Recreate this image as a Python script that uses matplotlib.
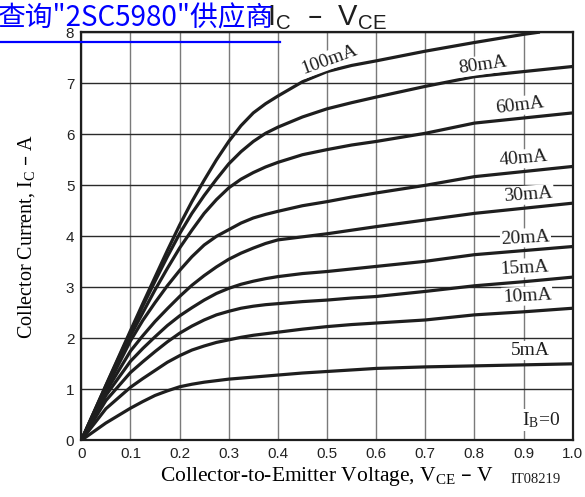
import matplotlib
matplotlib.use("Agg")
import matplotlib.pyplot as plt
from matplotlib.lines import Line2D

# V_CE sample points (V) and collector current (A)
vce = [0, 0.05, 0.1, 0.125, 0.15, 0.175, 0.2, 0.225, 0.25, 0.275, 0.3, 0.325,
       0.35, 0.375, 0.4, 0.45, 0.5, 0.55, 0.6, 0.7, 0.8, 0.9, 1.0]
vce_100ma = vce[:22] + [0.93]
ic_100ma = [0, 1.08, 2.15, 2.68, 3.2, 3.72, 4.22, 4.68, 5.1, 5.5, 5.86, 6.17,
            6.42, 6.6, 6.75, 7.03, 7.23, 7.35, 7.44, 7.63, 7.8, 7.96, 8.0]
ic_80ma = [0, 1.07, 2.12, 2.63, 3.12, 3.6, 4.05, 4.45, 4.8, 5.12, 5.42, 5.66,
           5.86, 6.02, 6.14, 6.34, 6.5, 6.62, 6.73, 6.94, 7.13, 7.23, 7.33]
ic_60ma = [0, 1.05, 2.05, 2.5, 2.95, 3.37, 3.77, 4.12, 4.45, 4.72, 4.95, 5.12,
           5.25, 5.36, 5.45, 5.6, 5.7, 5.79, 5.86, 6.02, 6.22, 6.32, 6.42]
ic_40ma = [0, 1.0, 1.95, 2.35, 2.7, 3.03, 3.33, 3.6, 3.83, 4.0, 4.13, 4.26,
           4.36, 4.43, 4.49, 4.6, 4.68, 4.77, 4.85, 5.0, 5.17, 5.27, 5.37]
ic_30ma = [0, 0.95, 1.75, 2.05, 2.33, 2.58, 2.82, 3.04, 3.23, 3.4, 3.55, 3.67,
           3.77, 3.86, 3.93, 3.99, 4.05, 4.12, 4.19, 4.32, 4.45, 4.55, 4.65]
ic_20ma = [0, 0.88, 1.55, 1.8, 2.03, 2.25, 2.44, 2.6, 2.75, 2.88, 2.98, 3.06,
           3.12, 3.17, 3.21, 3.27, 3.31, 3.36, 3.41, 3.51, 3.64, 3.72, 3.8]
ic_15ma = [0, 0.78, 1.33, 1.54, 1.74, 1.93, 2.1, 2.24, 2.36, 2.46, 2.53, 2.59,
           2.63, 2.66, 2.68, 2.72, 2.75, 2.79, 2.82, 2.92, 3.03, 3.11, 3.2]
ic_10ma = [0, 0.62, 1.04, 1.21, 1.37, 1.53, 1.66, 1.77, 1.85, 1.92, 1.97, 2.02,
           2.06, 2.09, 2.12, 2.18, 2.23, 2.27, 2.3, 2.36, 2.46, 2.52, 2.59]
ic_5ma = [0, 0.34, 0.63, 0.76, 0.88, 0.97, 1.05, 1.1, 1.14, 1.17, 1.2, 1.22,
          1.24, 1.26, 1.28, 1.32, 1.35, 1.38, 1.41, 1.44, 1.46, 1.48, 1.5]

curve_labels = ["100mA", "80mA", "60mA", "40mA", "30mA", "20mA", "15mA", "10mA", "5mA"]
x_ticks = [0, 0.1, 0.2, 0.3, 0.4, 0.5, 0.6, 0.7, 0.8, 0.9, 1.0]
x_tick_labels = ["0", "0.1", "0.2", "0.3", "0.4", "0.5", "0.6", "0.7", "0.8", "0.9", "1.0"]
y_ticks = [0, 1, 2, 3, 4, 5, 6, 7, 8]

SERIF = "Liberation Serif"
SANS = "Liberation Sans"

fig = plt.figure(figsize=(5.85, 4.97), dpi=100)
ax = fig.add_axes([0.139, 0.114, 0.840, 0.821])

series = [
    (vce_100ma, ic_100ma), (vce, ic_80ma), (vce, ic_60ma), (vce, ic_40ma),
    (vce, ic_30ma), (vce, ic_20ma), (vce, ic_15ma), (vce, ic_10ma), (vce, ic_5ma),
]
for xs, ys in series:
    ax.plot(xs, ys, color="#1e1e1e", lw=2.3, solid_joinstyle="round", zorder=3)

ax.set_xlim(0, 1.0)
ax.set_ylim(0, 8)
ax.set_xticks(x_ticks)
ax.set_xticklabels(x_tick_labels, fontfamily=SANS, fontsize=11)
ax.set_yticks(y_ticks)
ax.set_yticklabels([str(v) for v in y_ticks], fontfamily=SANS, fontsize=11)
ax.tick_params(length=0, pad=5, colors="#222222")
ax.xaxis.grid(True, color="#7a7a7a", lw=1.0)
ax.yaxis.grid(True, color="#2a2a2a", lw=1.0)
for sp in ax.spines.values():
    sp.set_linewidth(1.6)
    sp.set_color("#1e1e1e")

# curve annotations: (x, y, rotation)
label_pos = [
    (0.505, 7.46, 20), (0.818, 7.36, 8), (0.893, 6.56, 7), (0.901, 5.52, 5),
    (0.910, 4.81, 4), (0.904, 3.97, 3), (0.901, 3.38, 3), (0.907, 2.83, 3),
    (0.913, 1.77, 0),
]
for text, (lx, ly, rot) in zip(curve_labels, label_pos):
    ax.text(lx, ly, text, ha="center", va="center", rotation=rot,
            fontfamily=SERIF, fontsize=14, color="#1e1e1e", zorder=4,
            bbox=dict(boxstyle="square,pad=0.05", fc="white", ec="none"))
ax.text(0.936, 0.40, r"$\mathregular{I_B}$=0", ha="center", va="center",
        fontfamily=SERIF, fontsize=14, color="#1e1e1e", zorder=4,
        bbox=dict(boxstyle="square,pad=0.05", fc="white", ec="none"))

ax.set_xlabel(r"Collector-to-Emitter Voltage, $\mathregular{V_{CE}}$ – V",
              fontfamily=SERIF, fontsize=15.5, labelpad=3)
ax.set_ylabel(r"Collector Current, $\mathregular{I_C}$ – A",
              fontfamily=SERIF, fontsize=14.5, labelpad=21)
fig.text(0.958, 0.036, "IT08219", fontfamily=SERIF, fontsize=10.5,
         ha="right", va="center", color="#1e1e1e")

ax.set_title(r"$\mathregular{I_C}$  –  $\mathregular{V_{CE}}$", fontfamily=SANS,
             fontsize=21, pad=0, color="#1e1e1e")

# overlaid link text
fig.text(-0.004, 0.962, "查询\"2SC5980\"供应商", color="#0000ff", fontsize=20,
         family=["Noto Sans CJK SC", "DejaVu Sans"], ha="left", va="center",
         zorder=10)
fig.add_artist(Line2D([0, 0.478], [0.916, 0.916], color="#0000ff", lw=1.6,
                      transform=fig.transFigure, zorder=10))

fig.savefig("out.png", dpi=100)
